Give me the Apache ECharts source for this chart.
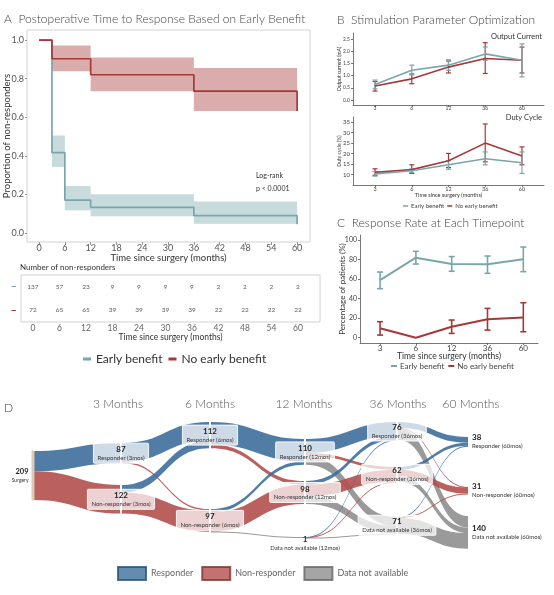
<!DOCTYPE html>
<html><head><meta charset="utf-8">
<script src="https://cdn.jsdelivr.net/npm/echarts@6/dist/echarts.min.js"></script>
<style>html,body{margin:0;padding:0;background:#fff}#c{width:554px;height:595px}</style>
</head><body><div id="c"></div>
<script>
// ---------- Panel A : Kaplan-Meier ----------
const kmEarlyTime = [0, 3, 6, 12, 36, 60];
const kmEarlySurv = [1, 0.416, 0.17, 0.133, 0.09, 0.045];
const kmLateTime = [0, 3, 12, 36, 60];
const kmLateSurv = [1, 0.903, 0.82, 0.735, 0.632];
const kmEarlyBandStart = [3, 6, 12, 36];
const kmEarlyBandEnd = [6, 12, 36, 60];
const kmEarlyBandLow = [0.342, 0.117, 0.086, 0.048];
const kmEarlyBandHigh = [0.505, 0.243, 0.2, 0.163];
const kmLateBandStart = [3, 12, 36];
const kmLateBandEnd = [12, 36, 60];
const kmLateBandLow = [0.838, 0.735, 0.632];
const kmLateBandHigh = [0.972, 0.91, 0.855];
const kmTicksX = [0, 6, 12, 18, 24, 30, 36, 42, 48, 54, 60];
const kmTicksY = [0, 0.2, 0.4, 0.6, 0.8, 1.0];
// risk table
const riskTimes = [0, 6, 12, 18, 24, 30, 36, 42, 48, 54, 60];
const riskEarly = [137, 57, 23, 9, 9, 9, 9, 2, 2, 2, 2];
const riskLate = [72, 65, 65, 39, 39, 39, 39, 22, 22, 22, 22];
const riskRows = ['No early benefit', 'Early benefit'];

// ---------- Panel B ----------
const timeLabels = ['3', '6', '12', '36', '60'];
const curEarly = [0.64, 1.22, 1.43, 1.89, 1.63];
const curEarlyLo = [0.46, 1.03, 1.22, 1.63, 0.95];
const curEarlyHi = [0.82, 1.43, 1.65, 2.17, 2.3];
const curLate = [0.58, 0.87, 1.35, 1.7, 1.63];
const curLateLo = [0.37, 0.67, 1.11, 1.09, 1.11];
const curLateHi = [0.76, 1.07, 1.6, 2.35, 2.17];
const curTicks = [0, 0.5, 1.0, 1.5, 2.0, 2.5];
const dutyEarly = [10.4, 11.9, 14.7, 17.6, 15.7];
const dutyEarlyLo = [9.3, 11.0, 12.6, 14.7, 10.6];
const dutyEarlyHi = [11.5, 12.8, 16.6, 20.8, 20.8];
const dutyLate = [11.1, 12.4, 16.6, 25.0, 18.9];
const dutyLateLo = [9.7, 10.6, 13.4, 16.1, 14.7];
const dutyLateHi = [12.8, 14.7, 20.1, 34.1, 23.2];
const dutyTicks = [10, 15, 20, 25, 30, 35];

// ---------- Panel C ----------
const rateEarly = [59.0, 81.9, 75.4, 75.2, 80.2];
const rateEarlyLo = [50.2, 75.4, 68.0, 65.9, 67.6];
const rateEarlyHi = [67.2, 88.4, 83.0, 83.6, 92.8];
const rateLate = [9.6, 0, 11.3, 18.8, 20.8];
const rateLateLo = [2.7, 0, 4.4, 7.8, 6.1];
const rateLateHi = [16.4, 0, 18.1, 30.0, 35.8];
const rateTicks = [0, 20, 40, 60, 80, 100];

// ---------- Panel D : Sankey ----------
const sankeyNodes = ['Surgery', 'Responder (3mos)', 'Non-responder (3mos)', 'Responder (6mos)', 'Non-responder (6mos)',
  'Responder (12mos)', 'Non-responder (12mos)', 'Data not available (12mos)',
  'Responder (36mos)', 'Non-responder (36mos)', 'Data not available (36mos)',
  'Responder (60mos)', 'Non-responder (60mos)', 'Data not available (60mos)'];
const sankeyCounts = [209, 87, 122, 112, 97, 110, 98, 1, 76, 62, 71, 38, 31, 140];
const sankeyStatus = ['S', 'R', 'N', 'R', 'N', 'R', 'N', 'D', 'R', 'N', 'D', 'R', 'N', 'D'];
const linkSource = [0, 0, 1, 1, 2, 2, 3, 3, 4, 4, 4, 5, 5, 5, 6, 6, 6, 7, 7, 7, 8, 8, 8, 9, 9, 9, 10, 10, 10];
const linkTarget = [1, 2, 3, 4, 3, 4, 5, 6, 5, 6, 7, 8, 9, 10, 8, 9, 10, 8, 9, 10, 11, 12, 13, 11, 12, 13, 11, 12, 13];
const linkValue = [87, 122, 80, 7, 32, 90, 96, 16, 14, 82, 1, 60, 12, 38, 16, 50, 32, 1, 1, 1, 25, 2, 49, 12, 26, 24, 1, 3, 67];
const columnHeaders = ['3 Months', '6 Months', '12 Months', '36 Months', '60 Months'];
const legendD = ['Responder', 'Non-responder', 'Data not available'];

// ---------- layout / style (not data) ----------
const TEAL = '#79a6ab', RED = '#a63838';
const BLUE_D = '#3d6e9c', RED_D = '#b34f4c', GREY_D = '#8f8f8f';
const statusColor = { R: BLUE_D, N: RED_D, D: GREY_D, S: '#dccab5' };
const SK = { left: 0, top: 420, width: 554, height: 140 };
const nodeLeftPx = [32, 120, 120, 209, 209, 304, 304, 304, 396, 396, 396, 468, 468, 468];
const nodeTopPx = [451, 443, 485, 422, 509, 439, 481, 537, 422, 467, 517, 437, 487, 516];
const headerX = [118, 210, 304, 398, 471];
const FONT = 'Lato, "Open Sans", "DejaVu Sans", sans-serif';
const TITLE_STYLE = { fontSize: 12, fontWeight: 300, color: '#444', fontFamily: FONT };

function pairs(xs, ys) { return xs.map((x, i) => [x, ys[i]]); }
function bandData(s, e, lo, hi) { return s.map((v, i) => [v, e[i], lo[i], hi[i]]); }
function errData(lo, hi) { return lo.map((v, i) => [i, v, hi[i]]); }

function bandRender(fill) {
  return function (params, api) {
    const p0 = api.coord([api.value(0), api.value(3)]);
    const p1 = api.coord([api.value(1), api.value(2)]);
    return { type: 'rect', shape: { x: p0[0], y: p0[1], width: p1[0] - p0[0], height: p1[1] - p0[1] },
      style: { fill: fill } };
  };
}
function errRender(cap, color, lw) {
  return function (params, api) {
    const lo = api.value(1), hi = api.value(2);
    if (lo === hi) return null;
    const a = api.coord([api.value(0), lo]);
    const b = api.coord([api.value(0), hi]);
    const st = { stroke: color, lineWidth: lw };
    return { type: 'group', children: [
      { type: 'line', shape: { x1: a[0], y1: a[1], x2: b[0], y2: b[1] }, style: st },
      { type: 'line', shape: { x1: a[0] - cap, y1: a[1], x2: a[0] + cap, y2: a[1] }, style: st },
      { type: 'line', shape: { x1: b[0] - cap, y1: b[1], x2: b[0] + cap, y2: b[1] }, style: st }
    ] };
  };
}

const idx5 = [0, 1, 2, 3, 4];
function catAxis(grid, min, max, fs, margin, name, nameGap, nameFs) {
  return {
    type: 'value', gridIndex: grid, min: min, max: max,
    axisLine: { show: true, onZero: false, lineStyle: { color: '#555', width: 0.8 } },
    axisTick: { show: true, customValues: idx5, length: 2, lineStyle: { color: '#555', width: 0.8 } },
    axisLabel: { customValues: idx5, formatter: v => timeLabels[Math.round(v)], fontSize: fs, color: '#444', margin: margin },
    splitLine: { show: false },
    name: name, nameLocation: 'middle', nameGap: nameGap, nameMoveOverlap: false,
    nameTextStyle: { fontSize: nameFs, color: '#333' }
  };
}
function valAxis(grid, min, max, ticks, fmt, fs, name, nameGap, nameFs, margin) {
  return {
    type: 'value', gridIndex: grid, min: min, max: max,
    axisLine: { show: true, onZero: false, lineStyle: { color: '#555', width: 0.8 } },
    axisTick: { show: true, customValues: ticks, length: 2, lineStyle: { color: '#555', width: 0.8 } },
    axisLabel: { customValues: ticks, formatter: fmt, fontSize: fs, color: '#444', margin: margin },
    splitLine: { show: false },
    name: name, nameLocation: 'middle', nameGap: nameGap, nameMoveOverlap: false,
    nameTextStyle: { fontSize: nameFs, color: '#333' }
  };
}

// sankey data
const skData = sankeyNodes.map((n, i) => {
  const st = sankeyStatus[i];
  const item = {
    name: n,
    localX: (nodeLeftPx[i] - SK.left) / SK.width,
    localY: (nodeTopPx[i] - SK.top) / SK.height,
    itemStyle: st === 'S' ? { color: statusColor.S, borderColor: statusColor.S, borderWidth: 1 } : { color: 'rgba(0,0,0,0)' }
  };
  const txt = '{n|' + sankeyCounts[i] + '}\n{s|' + n + '}';
  if (st === 'S') {
    item.label = { position: 'left', distance: 3, formatter: txt,
      rich: { n: { fontSize: 7.5, fontWeight: 'bold', color: '#222', align: 'right', lineHeight: 9 },
              s: { fontSize: 5, color: '#333', align: 'right', lineHeight: 7 } } };
  } else if (i >= 11) {
    item.label = { position: 'right', distance: 2, formatter: txt,
      rich: { n: { fontSize: 8, fontWeight: 'bold', color: '#222', align: 'left', lineHeight: 9 },
              s: { fontSize: 6, color: '#333', align: 'left', lineHeight: 8 } } };
  } else if (st === 'D' && sankeyCounts[i] < 5) {
    item.label = { position: 'bottom', distance: -3, formatter: txt,
      rich: { n: { fontSize: 8, fontWeight: 'bold', color: '#222', align: 'center', lineHeight: 9 },
              s: { fontSize: 6, color: '#333', align: 'center', lineHeight: 8 } } };
  } else {
    item.label = { position: 'inside', formatter: txt,
      backgroundColor: 'rgba(255,255,255,0.72)', borderColor: 'rgba(255,255,255,0.9)', borderWidth: 0.5,
      borderRadius: 1, padding: [2, 4, 1, 4],
      rich: { n: { fontSize: 8, fontWeight: 'bold', color: '#222', align: 'center', lineHeight: 9 },
              s: { fontSize: 6, color: '#333', align: 'center', lineHeight: 8 } } };
  }
  return item;
});
const skLinks = linkSource.map((s, i) => ({
  source: sankeyNodes[s], target: sankeyNodes[linkTarget[i]], value: linkValue[i],
  lineStyle: { color: statusColor[sankeyStatus[linkTarget[i]]], opacity: 0.9 }
}));

const G = { outerBoundsMode: 'none', containLabel: false };
const option = {
  animation: false,
  textStyle: { fontFamily: FONT },
  title: [
    { text: 'A  Postoperative Time to Response Based on Early Benefit', left: 4, top: 13, padding: 0, textStyle: TITLE_STYLE },
    { text: 'B  Stimulation Parameter Optimization', left: 337, top: 14, padding: 0, textStyle: TITLE_STYLE },
    { text: 'C  Response Rate at Each Timepoint', left: 337, top: 217, padding: 0, textStyle: TITLE_STYLE },
    { text: 'D', left: 4, top: 402, padding: 0, textStyle: TITLE_STYLE }
  ],
  legend: [
    { data: ['Early benefit', 'No early benefit'], left: 83, top: 353, icon: 'rect', itemWidth: 8, itemHeight: 3,
      itemGap: 6, selectedMode: false, padding: 0, textStyle: { fontSize: 12, color: '#333' } },
    { data: ['Early benefit', 'No early benefit'], left: 403, top: 203, icon: 'rect', itemWidth: 5, itemHeight: 1.5,
      itemGap: 3, selectedMode: false, padding: 0, textStyle: { fontSize: 6, color: '#444', padding: [0, 0, 0, -2] } },
    { data: ['Early benefit', 'No early benefit'], left: 391, top: 362, icon: 'rect', itemWidth: 6, itemHeight: 2,
      itemGap: 4, selectedMode: false, padding: 0, textStyle: { fontSize: 8, color: '#444', padding: [0, 0, 0, -2] } },
    { data: legendD, left: 117, top: 566, icon: 'rect', itemWidth: 28, itemHeight: 13, itemGap: 8,
      selectedMode: false, padding: 0, textStyle: { fontSize: 9, color: '#666' } }
  ],
  grid: [
    Object.assign({ left: 27, top: 30, width: 283, height: 212, show: true, borderColor: '#d2d2d2', borderWidth: 1, backgroundColor: '#fff' }, G),
    Object.assign({ left: 21, top: 275, width: 299, height: 47, show: true, borderColor: '#d2d2d2', borderWidth: 1 }, G),
    Object.assign({ left: 353, top: 33, width: 191, height: 72 }, G),
    Object.assign({ left: 353, top: 117, width: 191, height: 68 }, G),
    Object.assign({ left: 360, top: 235, width: 178, height: 108 }, G)
  ],
  xAxis: [
    { type: 'value', gridIndex: 0, min: -2.8, max: 63,
      axisLine: { show: false, onZero: false },
      axisTick: { show: true, customValues: kmTicksX, length: 3, lineStyle: { color: '#999' } },
      axisLabel: { customValues: kmTicksX, fontSize: 9, color: '#555', margin: 2 },
      splitLine: { show: false },
      name: 'Time since surgery (months)', nameLocation: 'middle', nameGap: 11, nameMoveOverlap: false,
      nameTextStyle: { fontSize: 9.5, color: '#333' } },
    { type: 'value', gridIndex: 1, min: -2.7, max: 65,
      axisLine: { show: false, onZero: false }, axisTick: { show: false },
      axisLabel: { customValues: riskTimes, fontSize: 8.5, color: '#666', margin: 1.5 },
      splitLine: { show: false },
      name: 'Time since surgery (months)', nameLocation: 'middle', nameGap: 10.5, nameMoveOverlap: false,
      nameTextStyle: { fontSize: 8.5, color: '#333' } },
    catAxis(2, -0.6, 4.6, 5, 1, '', 0, 5),
    catAxis(3, -0.6, 4.6, 5.5, 1, 'Time since surgery (months)', 7, 5.5),
    catAxis(4, -0.56, 4.41, 8, 1, 'Time since surgery (months)', 9, 8.5)
  ],
  yAxis: [
    { type: 'value', gridIndex: 0, min: -0.047, max: 1.052,
      axisLine: { show: false, onZero: false },
      axisTick: { show: true, customValues: kmTicksY, length: 2, lineStyle: { color: '#999' } },
      axisLabel: { customValues: kmTicksY, formatter: v => v.toFixed(1), fontSize: 9, color: '#555', margin: 3 },
      splitLine: { show: false },
      name: 'Proportion of non-responders', nameLocation: 'middle', nameGap: 15, nameMoveOverlap: false,
      nameTextStyle: { fontSize: 9.5, color: '#333' } },
    { type: 'category', gridIndex: 1, data: riskRows,
      axisLine: { show: false }, axisTick: { show: false },
      axisLabel: { margin: 4, formatter: v => v === 'Early benefit' ? '{t|–}' : '{r|–}',
        rich: { t: { color: TEAL, fontSize: 11, fontWeight: 'bold' }, r: { color: RED, fontSize: 11, fontWeight: 'bold' } } } },
    valAxis(2, -0.2, 2.745, curTicks, v => v.toFixed(1), 5, 'Output current (mA)', 11, 5, 3),
    valAxis(3, 5.1, 37.4, dutyTicks, v => String(v), 6, 'Duty cycle (%)', 11, 5, 3),
    valAxis(4, -5.4, 105.1, rateTicks, v => String(v), 7, 'Percentage of patients (%)', 14, 8, 3)
  ],
  graphic: { elements: [
    { type: 'text', x: 256, y: 176, style: { text: 'Log-rank', fontSize: 7, fill: '#333', fontFamily: FONT, verticalAlign: 'middle' } },
    { type: 'text', x: 256, y: 189, style: { text: 'p < 0.0001', fontSize: 7, fill: '#333', fontFamily: FONT, verticalAlign: 'middle' } },
    { type: 'text', x: 20, y: 267, style: { text: 'Number of non-responders', fontSize: 8, fill: '#333', fontFamily: FONT, verticalAlign: 'middle' } },
    { type: 'text', x: 542, y: 37, style: { text: 'Output Current', fontSize: 7.5, fill: '#333', fontFamily: FONT, align: 'right', verticalAlign: 'middle' } },
    { type: 'text', x: 542, y: 118, style: { text: 'Duty Cycle', fontSize: 7.5, fill: '#333', fontFamily: FONT, align: 'right', verticalAlign: 'middle' } }
  ].concat(columnHeaders.map((h, i) => ({ type: 'text', x: headerX[i], y: 404,
      style: { text: h, fontSize: 12, fontWeight: 300, fill: '#555', fontFamily: FONT, align: 'center', verticalAlign: 'middle' } }))) },
  series: [
    // A bands
    { type: 'custom', name: 'bandEarly', xAxisIndex: 0, yAxisIndex: 0, z: 1, silent: true,
      renderItem: bandRender('rgba(122,167,172,0.42)'), encode: { x: [0, 1], y: [2, 3] },
      data: bandData(kmEarlyBandStart, kmEarlyBandEnd, kmEarlyBandLow, kmEarlyBandHigh) },
    { type: 'custom', name: 'bandLate', xAxisIndex: 0, yAxisIndex: 0, z: 1, silent: true,
      renderItem: bandRender('rgba(175,70,70,0.45)'), encode: { x: [0, 1], y: [2, 3] },
      data: bandData(kmLateBandStart, kmLateBandEnd, kmLateBandLow, kmLateBandHigh) },
    { type: 'line', name: 'Early benefit', xAxisIndex: 0, yAxisIndex: 0, step: 'end', showSymbol: false, z: 3,
      color: TEAL, lineStyle: { width: 1.7 }, data: pairs(kmEarlyTime, kmEarlySurv) },
    { type: 'line', name: 'No early benefit', xAxisIndex: 0, yAxisIndex: 0, step: 'end', showSymbol: false, z: 3,
      color: RED, lineStyle: { width: 1.7 }, data: pairs(kmLateTime, kmLateSurv) },
    // risk table
    { type: 'scatter', name: 'riskEarly', xAxisIndex: 1, yAxisIndex: 1, symbolSize: 1, itemStyle: { color: 'rgba(0,0,0,0)' },
      label: { show: true, position: 'inside', formatter: p => p.value[2], fontSize: 6.5, color: '#333' },
      data: riskTimes.map((t, i) => [t, 'Early benefit', riskEarly[i]]) },
    { type: 'scatter', name: 'riskLate', xAxisIndex: 1, yAxisIndex: 1, symbolSize: 1, itemStyle: { color: 'rgba(0,0,0,0)' },
      label: { show: true, position: 'inside', formatter: p => p.value[2], fontSize: 6.5, color: '#333' },
      data: riskTimes.map((t, i) => [t, 'No early benefit', riskLate[i]]) },
    // B output current
    { type: 'line', name: 'No early benefit', xAxisIndex: 2, yAxisIndex: 2, showSymbol: false, color: RED,
      lineStyle: { width: 1.6 }, data: pairs(idx5, curLate) },
    { type: 'line', name: 'Early benefit', xAxisIndex: 2, yAxisIndex: 2, showSymbol: false, color: TEAL,
      lineStyle: { width: 1.6 }, data: pairs(idx5, curEarly) },
    { type: 'custom', name: 'errCurLate', xAxisIndex: 2, yAxisIndex: 2, renderItem: errRender(2.5, RED, 1.2),
      encode: { x: 0, y: [1, 2] }, data: errData(curLateLo, curLateHi) },
    { type: 'custom', name: 'errCurEarly', xAxisIndex: 2, yAxisIndex: 2, renderItem: errRender(2.5, TEAL, 1.2),
      encode: { x: 0, y: [1, 2] }, data: errData(curEarlyLo, curEarlyHi) },
    // B duty cycle
    { type: 'line', name: 'No early benefit', xAxisIndex: 3, yAxisIndex: 3, showSymbol: false, color: RED,
      lineStyle: { width: 1.6 }, data: pairs(idx5, dutyLate) },
    { type: 'line', name: 'Early benefit', xAxisIndex: 3, yAxisIndex: 3, showSymbol: false, color: TEAL,
      lineStyle: { width: 1.6 }, data: pairs(idx5, dutyEarly) },
    { type: 'custom', name: 'errDutyLate', xAxisIndex: 3, yAxisIndex: 3, renderItem: errRender(2.5, RED, 1.2),
      encode: { x: 0, y: [1, 2] }, data: errData(dutyLateLo, dutyLateHi) },
    { type: 'custom', name: 'errDutyEarly', xAxisIndex: 3, yAxisIndex: 3, renderItem: errRender(2.5, TEAL, 1.2),
      encode: { x: 0, y: [1, 2] }, data: errData(dutyEarlyLo, dutyEarlyHi) },
    // C response rate
    { type: 'line', name: 'Early benefit', xAxisIndex: 4, yAxisIndex: 4, showSymbol: false, color: TEAL,
      lineStyle: { width: 2 }, data: pairs(idx5, rateEarly) },
    { type: 'line', name: 'No early benefit', xAxisIndex: 4, yAxisIndex: 4, showSymbol: false, color: RED,
      lineStyle: { width: 2 }, data: pairs(idx5, rateLate) },
    { type: 'custom', name: 'errRateEarly', xAxisIndex: 4, yAxisIndex: 4, renderItem: errRender(3, TEAL, 1.6),
      encode: { x: 0, y: [1, 2] }, data: errData(rateEarlyLo, rateEarlyHi) },
    { type: 'custom', name: 'errRateLate', xAxisIndex: 4, yAxisIndex: 4, renderItem: errRender(3, RED, 1.6),
      encode: { x: 0, y: [1, 2] }, data: errData(rateLateLo, rateLateHi) },
    // legend entries for D
    { type: 'scatter', name: legendD[0], xAxisIndex: 0, yAxisIndex: 0, data: [],
      itemStyle: { color: BLUE_D, borderColor: '#2b5173', borderWidth: 1 } },
    { type: 'scatter', name: legendD[1], xAxisIndex: 0, yAxisIndex: 0, data: [],
      itemStyle: { color: RED_D, borderColor: '#7e3331', borderWidth: 1 } },
    { type: 'scatter', name: legendD[2], xAxisIndex: 0, yAxisIndex: 0, data: [],
      itemStyle: { color: GREY_D, borderColor: '#666', borderWidth: 1 } },
    // D sankey
    { type: 'sankey', left: SK.left, top: SK.top, width: SK.width, height: SK.height,
      nodeWidth: 2, nodeGap: 45.3, layoutIterations: 0, draggable: false,
      emphasis: { disabled: true }, data: skData, links: skLinks,
      lineStyle: { curveness: 0.5 }, label: { fontFamily: FONT } }
  ]
};
const chart = echarts.init(document.getElementById('c'), null, { renderer: 'canvas' });
chart.setOption(option);
</script></body></html>
